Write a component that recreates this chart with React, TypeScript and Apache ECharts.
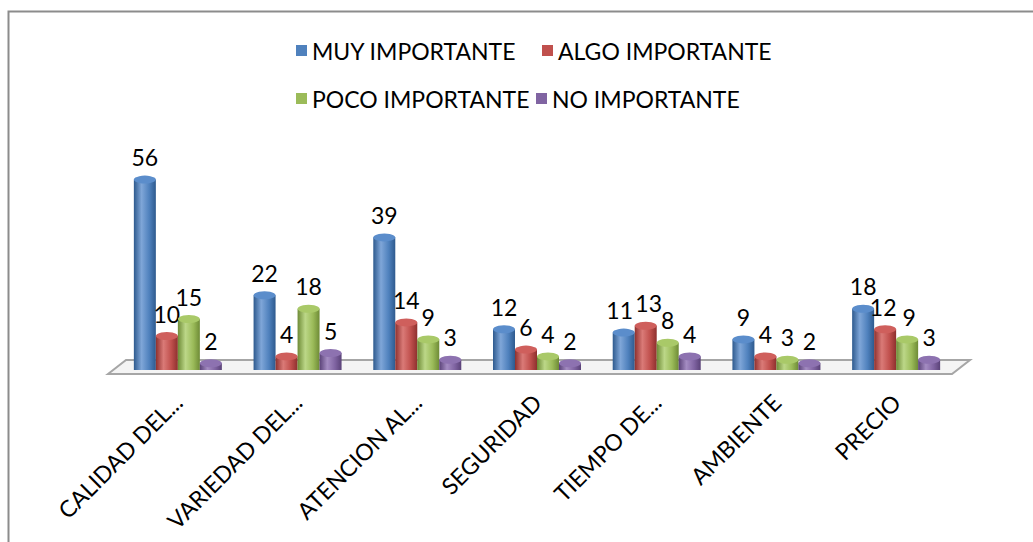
import React, { useEffect, useRef } from "react";
import * as echarts from "echarts";

const categories = [
  "CALIDAD DEL...",
  "VARIEDAD DEL...",
  "ATENCION AL...",
  "SEGURIDAD",
  "TIEMPO DE...",
  "AMBIENTE",
  "PRECIO",
];
const seriesNames = ["MUY IMPORTANTE", "ALGO IMPORTANTE", "POCO IMPORTANTE", "NO IMPORTANTE"];
const muyImportante = [56, 22, 39, 12, 11, 9, 18];
const algoImportante = [10, 4, 14, 6, 13, 4, 12];
const pocoImportante = [15, 18, 9, 4, 8, 3, 9];
const noImportante = [2, 5, 3, 2, 4, 2, 3];

const palette = [
  { base: "#4F81BD", dark: "#2E5A8E", light: "#7FA6D8", top: "#5B8DCB" },
  { base: "#C0504D", dark: "#8E302E", light: "#DA7A77", top: "#CF5F5C" },
  { base: "#9BBB59", dark: "#6E8B36", light: "#BCD788", top: "#A9C968" },
  { base: "#8064A2", dark: "#5A4278", light: "#A48CC2", top: "#8D72B0" },
];

// small horizontal nudges of crowded value labels (series index -> category index -> dx)
const labelNudge: Record<number, Record<number, number>> = {
  0: { 4: -4 },
  1: { 4: 3, 6: -2 },
  2: { 6: 2 },
};

const FONT = "Lato";

export default function App() {
  const ref = useRef<HTMLDivElement>(null);
  useEffect(() => {
    const chart = echarts.init(ref.current!, null, { renderer: "svg" });
    const datasets = [muyImportante, algoImportante, pocoImportante, noImportante];
    const grad = (c: any) =>
      new echarts.graphic.LinearGradient(0, 0, 1, 0, [
        { offset: 0, color: c.dark },
        { offset: 0.35, color: c.light },
        { offset: 0.7, color: c.base },
        { offset: 1, color: c.dark },
      ]);
    const bars = datasets.map((d, i) => ({
      type: "bar",
      name: seriesNames[i],
      data: d.map((v, j) => {
        const dx = labelNudge[i] && labelNudge[i][j];
        return dx ? { value: v, label: { offset: [dx, 0] } } : v;
      }),
      barWidth: 22,
      barGap: "0%",
      z: 3,
      itemStyle: { color: grad(palette[i]) },
      label: {
        show: true,
        position: "top",
        distance: 11,
        color: "#000",
        fontSize: 23,
        fontFamily: FONT,
      },
    }));
    const caps = datasets.map((d, i) => ({
      type: "pictorialBar",
      name: "cap" + i,
      data: d,
      barWidth: 22,
      barGap: "0%",
      symbol: "circle",
      symbolSize: [22, 8],
      symbolPosition: "end",
      symbolOffset: [0, "-50%"],
      z: 4,
      itemStyle: { color: palette[i].top },
      silent: true,
    }));
    const legendPos = [
      { left: 291, top: 34 },
      { left: 537, top: 34 },
      { left: 291, top: 82 },
      { left: 531, top: 82 },
    ];
    chart.setOption({
      animation: false,
      backgroundColor: "#fff",
      legend: seriesNames.map((n, i) => ({
        left: legendPos[i].left,
        top: legendPos[i].top,
        icon: "rect",
        itemWidth: 11,
        itemHeight: 11,
        selectedMode: false,
        textStyle: { fontSize: 23, color: "#000", fontFamily: FONT },
        data: [{ name: n, itemStyle: { color: palette[i].base } }],
      })),
      grid: { left: 118, right: 77, top: 166, bottom: 172 },
      xAxis: {
        type: "category",
        data: categories,
        axisLine: { show: false },
        axisTick: { show: false },
        axisLabel: {
          rotate: 45,
          interval: 0,
          margin: 28,
          fontSize: 23,
          color: "#000",
          fontFamily: FONT,
        },
      },
      yAxis: {
        type: "value",
        min: 0,
        max: 60,
        show: false,
        splitLine: { show: false },
      },
      graphic: [
        {
          type: "rect",
          z: 0,
          shape: { x: 8.5, y: 11.5, width: 1100, height: 600 },
          style: { fill: "none", stroke: "#8c8c8c", lineWidth: 2 },
        },
        {
          type: "polygon",
          z: 1,
          shape: {
            points: [
              [108, 374],
              [126, 360],
              [970, 360],
              [952, 374],
            ],
          },
          style: { fill: "#f4f4f4", stroke: "#a6a6a6", lineWidth: 2 },
        },
      ],
      series: [...bars, ...caps],
    });
    return () => chart.dispose();
  }, []);
  return (
    <div
      ref={ref}
      style={{ position: "fixed", left: 0, top: 0, width: 1033, height: 542 }}
    />
  );
}
